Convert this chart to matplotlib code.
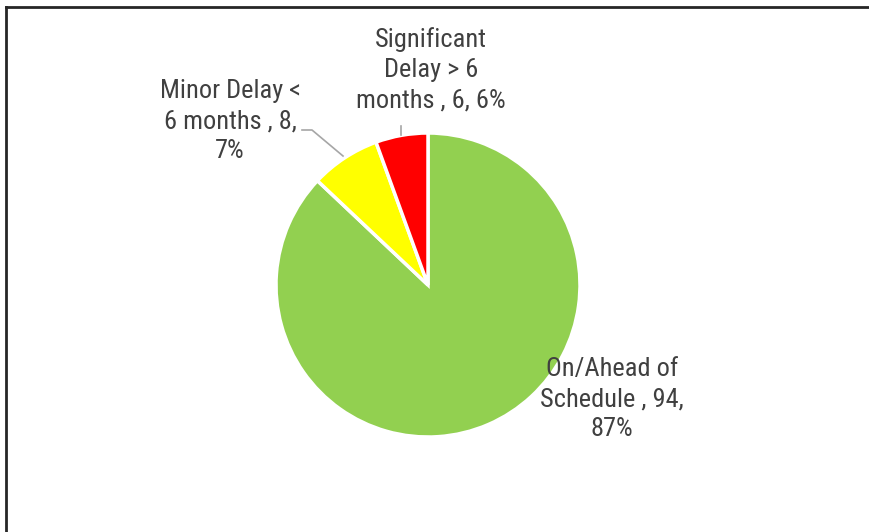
import matplotlib
matplotlib.use("Agg")
import matplotlib.pyplot as plt
from matplotlib.lines import Line2D

categories = ["On/Ahead of Schedule", "Minor Delay < 6 months", "Significant Delay > 6 months"]
values = [94, 8, 6]
colors = ["#92D050", "#FFFF00", "#FF0000"]
# wrapped display of category names, as in the chart
wrapped = [["On/Ahead of", "Schedule , {v},", "{p}%"],
           ["Minor Delay <", "6 months , {v},", "{p}%"],
           ["Significant", "Delay > 6", "months , {v}, {p}%"]]

W, H = 869, 532
fig = plt.figure(figsize=(W / 100, H / 100), dpi=100)
ax = fig.add_axes([0, 0, 1, 1])

cx, cy, r = 428, H - 285, 152
wedges, _ = ax.pie(values, colors=colors, startangle=90, counterclock=False,
                   center=(cx, cy), radius=r, frame=True,
                   wedgeprops=dict(edgecolor="white", linewidth=2.5))
ax.set_xlim(0, W)
ax.set_ylim(0, H)
ax.set_aspect("equal")
ax.axis("off")

total = sum(values)
font = dict(family=["Roboto Condensed", "DejaVu Sans"], size=19, color="#404040")
label_pos = [(612, H - 399), (230, H - 121), (431, H - 70)]
for lines, v, (lx, ly) in zip(wrapped, values, label_pos):
    p = round(v / total * 100)
    txt = "\n".join(l.format(v=v, p=p) for l in lines)
    ax.text(lx, ly, txt, ha="center", va="center", linespacing=1.33, **font)

# leader lines
lc = "#A6A6A6"
ax.add_line(Line2D([302, 312, 343], [H - 130, H - 130, H - 156], color=lc, lw=1.2))
ax.add_line(Line2D([401, 401], [H - 126, H - 135], color=lc, lw=1.2))

# chart border (top and left visible)
fig.add_artist(Line2D([5.5 / W, 1], [1 - 6.5 / H, 1 - 6.5 / H], transform=fig.transFigure, color="#262626", lw=2))
fig.add_artist(Line2D([5.5 / W, 5.5 / W], [0, 1 - 6.5 / H], transform=fig.transFigure, color="#262626", lw=2))

fig.savefig("out.png", dpi=100)
